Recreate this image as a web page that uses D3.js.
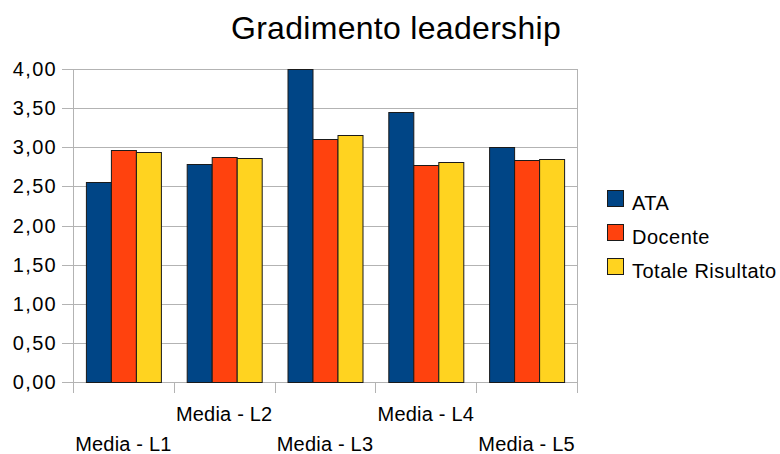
<!DOCTYPE html>
<html>
<head>
<meta charset="utf-8">
<script src="https://cdn.jsdelivr.net/npm/d3@7"></script>
<style>
  body { margin: 0; background: #fff; }
  text { font-family: "Liberation Sans", Arial, sans-serif; fill: #000; }
</style>
</head>
<body>
<div id="chart"></div>
<script>
const width = 780, height = 454,
  margin = { top: 69, bottom: 72, left: 73, right: 203 };

// DATA
const categories = ["Media - L1", "Media - L2", "Media - L3", "Media - L4", "Media - L5"];
const seriesNames = ["ATA", "Docente", "Totale Risultato"];
const ata = [2.56, 2.78, 4.00, 3.45, 3.00];
const docente = [2.97, 2.87, 3.11, 2.77, 2.84];
const totale = [2.94, 2.86, 3.16, 2.81, 2.85];
const yTicks = [0, 0.5, 1, 1.5, 2, 2.5, 3, 3.5, 4];
const colors = ["#004586", "#ff420e", "#ffd320"];

const seriesValues = [ata, docente, totale];

const svg = d3.select("#chart").append("svg")
  .attr("width", width)
  .attr("height", height);

const plotW = width - margin.left - margin.right,
  plotH = height - margin.top - margin.bottom;

// SCALES
const x = d3.scaleBand()
  .domain(categories)
  .range([margin.left, margin.left + plotW])
  .paddingInner(0.256)
  .paddingOuter(0.128);

const xSub = d3.scaleBand()
  .domain(seriesNames)
  .range([0, x.bandwidth()]);

const y = d3.scaleLinear()
  .domain([0, 4])
  .range([margin.top + plotH, margin.top]);

const fmt = d => d3.format(".2f")(d).replace(".", ",");

// GRID
svg.append("g")
  .selectAll("line")
  .data(yTicks)
  .join("line")
  .attr("x1", margin.left - 11)
  .attr("x2", margin.left + plotW)
  .attr("y1", d => Math.round(y(d)) + 0.5)
  .attr("y2", d => Math.round(y(d)) + 0.5)
  .attr("stroke", "#b3b3b3")
  .attr("stroke-width", 1);

// axis lines + x ticks
const band = plotW / categories.length;
svg.append("g")
  .selectAll("line")
  .data(d3.range(categories.length + 1))
  .join("line")
  .attr("x1", i => Math.round(margin.left + i * band) + 0.5)
  .attr("x2", i => Math.round(margin.left + i * band) + 0.5)
  .attr("y1", margin.top + plotH)
  .attr("y2", margin.top + plotH + 11)
  .attr("stroke", "#b3b3b3");

svg.append("line")
  .attr("x1", margin.left + 0.5).attr("x2", margin.left + 0.5)
  .attr("y1", margin.top).attr("y2", margin.top + plotH)
  .attr("stroke", "#b3b3b3");
svg.append("line")
  .attr("x1", margin.left + plotW + 0.5).attr("x2", margin.left + plotW + 0.5)
  .attr("y1", margin.top).attr("y2", margin.top + plotH)
  .attr("stroke", "#b3b3b3");

// Y LABELS
svg.append("g")
  .selectAll("text")
  .data(yTicks)
  .join("text")
  .attr("x", 57)
  .attr("y", d => y(d) + 7)
  .attr("text-anchor", "end")
  .attr("font-size", 20)
  .attr("letter-spacing", 1.3)
  .text(fmt);

// BARS
const groups = svg.append("g")
  .selectAll("g")
  .data(categories)
  .join("g")
  .attr("transform", d => `translate(${x(d)},0)`);

groups.selectAll("rect")
  .data((c, ci) => seriesNames.map((s, si) => ({ s, si, v: seriesValues[si][ci] })))
  .join("rect")
  .attr("x", d => Math.round(xSub(d.s)) + 0.5)
  .attr("y", d => Math.round(y(d.v)) + 0.5)
  .attr("width", xSub.bandwidth())
  .attr("height", d => y(0) - Math.round(y(d.v)))
  .attr("fill", d => colors[d.si])
  .attr("stroke", "#1a1a1a")
  .attr("stroke-width", 1);

// X LABELS (staggered)
svg.append("g")
  .selectAll("text")
  .data(categories)
  .join("text")
  .attr("x", d => x(d) + x.bandwidth() / 2)
  .attr("y", (d, i) => i % 2 === 0 ? 451 : 421)
  .attr("text-anchor", "middle")
  .attr("font-size", 20)
  .attr("letter-spacing", 0.2)
  .text(d => d);

// TITLE
svg.append("text")
  .attr("x", 396)
  .attr("y", 39)
  .attr("text-anchor", "middle")
  .attr("font-size", 32)
  .attr("letter-spacing", 0.3)
  .text("Gradimento leadership");

// LEGEND
const legend = svg.append("g")
  .selectAll("g")
  .data(seriesNames)
  .join("g")
  .attr("transform", (d, i) => `translate(607,${190 + i * 34})`);

legend.append("rect")
  .attr("x", 0.5).attr("y", 0.5)
  .attr("width", 16).attr("height", 16)
  .attr("fill", (d, i) => colors[i])
  .attr("stroke", "#1a1a1a");

legend.append("text")
  .attr("x", 25)
  .attr("y", 20)
  .attr("font-size", 20)
  .attr("letter-spacing", 0.5)
  .text(d => d);
</script>
</body>
</html>
